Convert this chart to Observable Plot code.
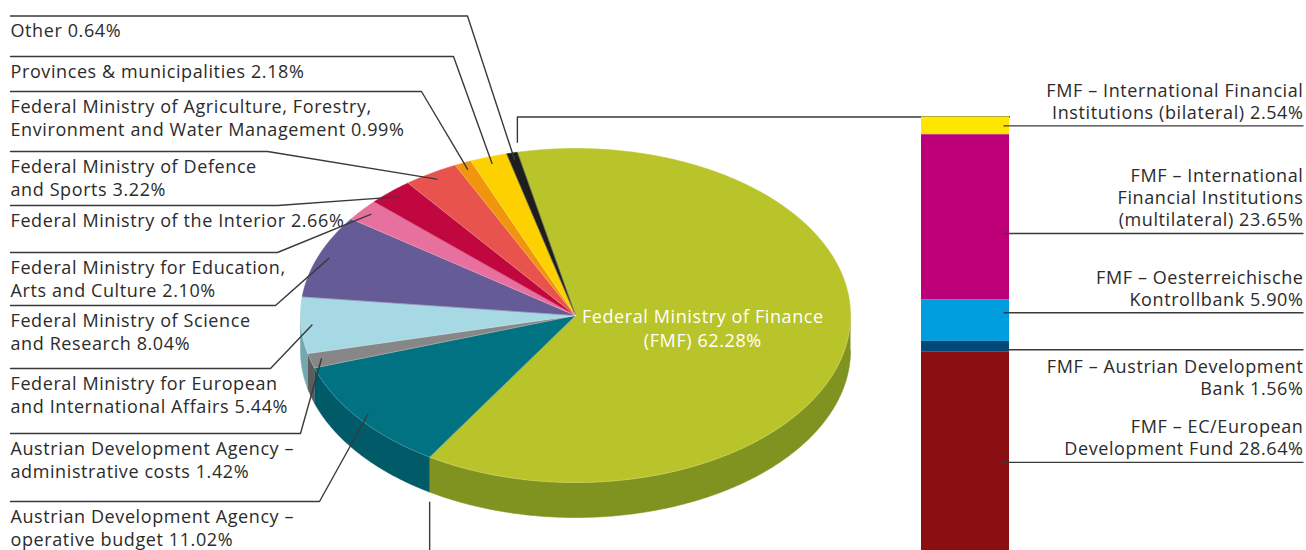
<!DOCTYPE html>
<html>
<head>
<meta charset="utf-8">
<script src="https://cdn.jsdelivr.net/npm/d3@7"></script>
<script src="https://cdn.jsdelivr.net/npm/@observablehq/plot@0.6"></script>
<style>
  html, body { margin: 0; padding: 0; background: #fff; }
  #chart { width: 1306px; height: 550px; }
  #chart text { letter-spacing: 0.6px; }
</style>
</head>
<body>
<div id="chart"></div>
<script>
// ---------------- DATA ----------------
// Pie slices, listed in the order of the labels (top to bottom)
const pieNames = [
  "Other",
  "Provinces & municipalities",
  "Federal Ministry of Agriculture, Forestry,\nEnvironment and Water Management",
  "Federal Ministry of Defence\nand Sports",
  "Federal Ministry of the Interior",
  "Federal Ministry for Education,\nArts and Culture",
  "Federal Ministry of Science\nand Research",
  "Federal Ministry for European\nand International Affairs",
  "Austrian Development Agency –\nadministrative costs",
  "Austrian Development Agency –\noperative budget",
  "Federal Ministry of Finance\n(FMF)"
];
const pieValues = [0.64, 2.18, 0.99, 3.22, 2.66, 2.10, 8.04, 5.44, 1.42, 11.02, 62.28];

// Breakdown of the FMF slice (stacked bar, top to bottom)
const barNames = [
  "FMF – International Financial\nInstitutions (bilateral)",
  "FMF – International\nFinancial Institutions\n(multilateral)",
  "FMF – Oesterreichische\nKontrollbank",
  "FMF – Austrian Development\nBank",
  "FMF – EC/European\nDevelopment Fund"
];
const barValues = [2.54, 23.65, 5.90, 1.56, 28.64];

// ---------------- STYLES ----------------
const pieColors  = ["#1d1d1b", "#fdd100", "#f0950d", "#e8534d", "#c1073f", "#e8709f",
                    "#655b96", "#a6d9e3", "#878787", "#007282", "#b9c42b"];
const sideColors = ["#111", "#c9a600", "#c07507", "#b8403b", "#960530", "#b9587e",
                    "#4d4574", "#74a8b0", "#5c5c5c", "#005a67", "#80921f"];
const barColors  = ["#ffe600", "#be0078", "#009ddf", "#00497a", "#8a0f13"];
const textColor = "#2b2b2b";
const lineColor = "#3a3a3a";
const font = "'Open Sans', sans-serif";
const fontSize = 18;

// ---------------- LAYOUT ----------------
const W = 1306, H = 550;
const pie = {cx: 575, cy: 315, rx: 275, ry: 167, depth: 35, start: -12.2};
const labelX = 10;
const labelLineY = [15.5, 56, 91, 151, 205, 252, 305, 368, 433, 501];
const labelElbowX = [467, 453, 421, 267, 277, 277, 275, 270, 300, 319];
const labelLead = 21, labelLineH = 23;
const bar = {x1: 921, x2: 1009, top: 116.5, bottom: 552, lineX1: 1003, lineX2: 1303, textX: 1303};
const barLineNudge = [0, 16, -8, 3, 10];
const barTextBelow = [false, false, false, true, false];
const barLineH = 22;

// ---------------- GEOMETRY (derived from data) ----------------
const total = d3.sum(pieValues);
function P(deg, r = 1, dz = 0) {
  const a = deg * Math.PI / 180;
  return {x: pie.cx + pie.rx * r * Math.sin(a), y: pie.cy - pie.ry * r * Math.cos(a) + dz};
}
function arc(a0, a1, r = 1, dz = 0) {
  const n = Math.max(2, Math.ceil(Math.abs(a1 - a0) / 0.5));
  return d3.range(n + 1).map(i => P(a0 + (a1 - a0) * i / n, r, dz));
}
const nLines = s => s.split("\n").length;
const fmt = (name, v) => name + " " + v.toFixed(2) + "%";

// clockwise from FMF (last) back to Other (first)
const order = d3.range(pieValues.length).reverse();
const slices = [];
let cur = pie.start;
for (const i of order) {
  const span = pieValues[i] / total * 360;
  slices.push({i, a0: cur, a1: cur + span, mid: cur + span / 2});
  cur += span;
}
const sliceOf = i => slices.find(s => s.i === i);

const marks = [];

// Side walls (front half only)
for (const s of slices) {
  const s0 = Math.max(s.a0, 90), s1 = Math.min(s.a1, 270);
  if (s0 >= s1) continue;
  const pts = [...arc(s0, s1, 1, 0), ...arc(s1, s0, 1, pie.depth)];
  marks.push(Plot.line(pts, {x: "x", y: "y", fill: sideColors[s.i], stroke: sideColors[s.i], strokeWidth: 0.6}));
}
// Top faces
for (const s of slices) {
  const c = P(0, 0);
  const pts = [c, ...arc(s.a0, s.a1), c];
  marks.push(Plot.line(pts, {x: "x", y: "y", fill: pieColors[s.i], stroke: pieColors[s.i], strokeWidth: 0.6}));
}
// Subtle seams between slices
const seams = slices.map((s, k) => [P(0, 0), P(s.a0)].map(p => ({...p, z: k}))).flat();
marks.push(Plot.line(seams, {x: "x", y: "y", z: "z", stroke: "white", strokeOpacity: 0.3, strokeWidth: 0.8}));

// Rim highlight on top edge of the side wall
marks.push(Plot.line(arc(90, 270), {x: "x", y: "y", stroke: "white", strokeOpacity: 0.25, strokeWidth: 0.8}));

// Leader lines for the left labels
const leaders = [];
for (let i = 0; i < labelLineY.length; i++) {
  const end = P(sliceOf(i).mid, 0.96);
  leaders.push({x: labelX, y: labelLineY[i], z: i});
  leaders.push({x: labelElbowX[i], y: labelLineY[i], z: i});
  leaders.push({x: end.x, y: end.y, z: i});
}
marks.push(Plot.line(leaders, {x: "x", y: "y", z: "z", stroke: lineColor, strokeWidth: 1.4}));

// Left labels (y = baseline of last line)
const labelRows = labelLineY.map((ly, i) => {
  const text = fmt(pieNames[i], pieValues[i]);
  return {x: labelX, y: ly + labelLead + (nLines(text) - 1) * labelLineH, text};
});
marks.push(Plot.text(labelRows, {x: "x", y: "y", text: "text", textAnchor: "start", lineAnchor: "bottom",
  lineHeight: labelLineH / fontSize, fontSize, fontFamily: font, fill: textColor}));

// FMF label inside the pie
const fmf = sliceOf(pieNames.length - 1);
const fmfPt = P(fmf.mid, 0.47);
const fmfText = fmt(pieNames[fmf.i], pieValues[fmf.i]);
marks.push(Plot.text([{x: fmfPt.x, y: fmfPt.y + (nLines(fmfText) - 1) / 2 * 24 + 6, text: fmfText}],
  {x: "x", y: "y", text: "text", textAnchor: "middle", lineAnchor: "bottom", lineHeight: 24 / fontSize,
   fontSize, fontFamily: font, fill: "white"}));

// Stacked bar (FMF breakdown)
const barTotal = d3.sum(barValues);
const k = (bar.bottom - bar.top) / barTotal;
const cum = d3.cumsum(barValues);
const barRows = barValues.map((v, i) => ({
  x1: bar.x1, x2: bar.x2,
  y1: bar.top + (cum[i] - v) * k, y2: bar.top + cum[i] * k,
  fill: barColors[i]
}));

// Connectors from FMF slice edges to bar top/bottom
const pTop = P(fmf.a0), pBot = P(fmf.a1, 1, pie.depth);
marks.push(Plot.line([
  {x: pTop.x, y: pTop.y - 10}, {x: pTop.x, y: bar.top}, {x: bar.x2, y: bar.top}
], {x: "x", y: "y", stroke: lineColor, strokeWidth: 1.4}));
marks.push(Plot.line([
  {x: pBot.x, y: pBot.y + 10}, {x: pBot.x, y: bar.bottom}, {x: bar.x1, y: bar.bottom}
], {x: "x", y: "y", stroke: lineColor, strokeWidth: 1.4}));

marks.push(Plot.rect(barRows, {x1: "x1", x2: "x2", y1: "y1", y2: "y2", fill: "fill"}));

// Bar label lines and texts
const barLines = barRows.map((r, i) => ({x1: bar.lineX1, x2: bar.lineX2, y: (r.y1 + r.y2) / 2 + barLineNudge[i]}));
marks.push(Plot.link(barLines, {x1: "x1", x2: "x2", y1: "y", y2: "y", stroke: lineColor, strokeWidth: 1.4}));
const barTextRows = barNames.map((n, i) => {
  const text = fmt(n, barValues[i]);
  const ly = barLines[i].y;
  const y = barTextBelow[i] ? ly + 23 + (nLines(text) - 1) * barLineH : ly - 7;
  return {x: bar.textX, y, text};
});
marks.push(Plot.text(barTextRows, {x: "x", y: "y", text: "text", textAnchor: "end", lineAnchor: "bottom",
  lineHeight: barLineH / fontSize, fontSize, fontFamily: font, fill: textColor}));

const chart = Plot.plot({
  width: W, height: H, margin: 0,
  x: {domain: [0, W], range: [0, W], axis: null},
  y: {domain: [0, H], range: [0, H], axis: null},
  style: {background: "white"},
  marks
});
document.getElementById("chart").appendChild(chart);
</script>
</body>
</html>
